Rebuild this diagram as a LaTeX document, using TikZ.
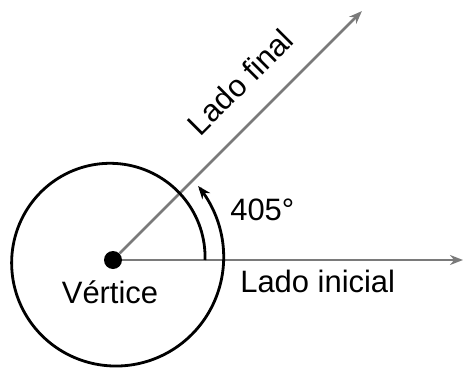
\documentclass[tikz,border=0pt]{standalone}
\usepackage{fontspec}
\setmainfont{Liberation Sans}
\usetikzlibrary{arrows.meta,calc}
\definecolor{raygray}{HTML}{7A7A7A}
\tikzset{
  ray/.style={-{Stealth[length=2.6mm,width=2mm]},line width=1.5pt,draw=raygray},
  turn/.style={-{Stealth[length=2.6mm,width=2mm]},line width=1.6pt,draw=black},
  dot/.style={circle,fill=black,inner sep=0pt,minimum size=3.6mm},
  lbl/.style={inner sep=0pt,font=\fontsize{17.6}{20}\selectfont}
}

\begin{document}
\begin{tikzpicture}[x=0.2mm,y=0.2mm]
    \useasboundingbox (0,0) rectangle (465,368);
    \node[dot] (v) at (113,108) {};
    \coordinate (ini) at (463,108);
    \coordinate (fin) at ($(v)+(45:352)$);
    \draw[ray] (v) -- (ini);
    \draw[ray] (v) -- (fin);
    % spiral of 405 degrees
    \draw[turn,shift={(v)}] plot[domain=0:401,samples=160,smooth]
      ({(92+21*\x/405)*cos(\x)},{(92+21*\x/405)*sin(\x)});
    \node[lbl,anchor=base] (vt) at (110,65) {Vértice};
    \node[lbl,anchor=base west] (li) at (240,76) {Lado inicial};
    \node[lbl,anchor=base west] (ang) at (230,148) {405°};
    \node[lbl,rotate=45,anchor=base] (lf) at ($(v)+(45:216)+(135:25)$) {Lado final};
  \end{tikzpicture}
\end{document}
